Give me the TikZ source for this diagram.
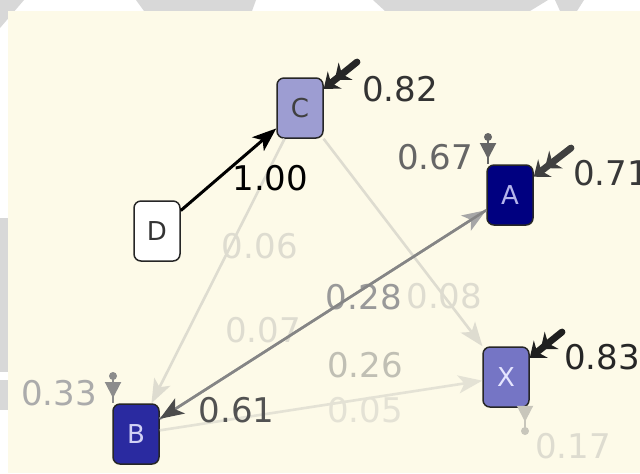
\documentclass[tikz,border=0pt]{standalone}
\usepackage{fontspec}
\setmainfont{DejaVu Sans}
\usepackage{tikz}
\definecolor{papercream}{RGB}{253,250,232}
\definecolor{markgrey}{RGB}{216,216,216}
\definecolor{statenavy}{RGB}{0,0,128}
\definecolor{stateblue}{RGB}{42,42,160}
\definecolor{stateviolet}{RGB}{117,117,197}
\definecolor{statelilac}{RGB}{157,157,210}
\definecolor{faintgrey}{RGB}{222,220,208}
\definecolor{palegrey}{RGB}{192,191,180}
\usetikzlibrary{arrows.meta,positioning,calc}

\begin{document}
\begin{tikzpicture}[
    x=0.5pt, y=-0.5pt,
    state/.style={rectangle, rounded corners=3.5pt, minimum width=23pt, minimum height=30pt, inner sep=0pt, draw=black!85, line width=0.75pt, font=\fontsize{13}{15}\selectfont},
    prob/.style={font=\fontsize{17}{20}\selectfont, inner sep=0pt},
    arrow/.style={-{Stealth[length=12pt, width=9pt, inset=3pt]}, line width=1.3pt},
    inflow/.style={-{Stealth[length=7pt, width=11pt] Stealth[length=7pt, width=11pt]}, line width=3.4pt, line cap=round},
    endmark/.style={-{Triangle[length=8pt, width=8pt]}, line width=1pt}
]

% paper and watermark
\useasboundingbox (0,0) rectangle (640,473);
\fill[white] (0,0) rectangle (640,473);
\fill[markgrey] (0,0) -- (24,0) -- (0,28) -- cycle;
\fill[markgrey] (136,0) -- (256,0) -- (252,11) -- (144,11) -- cycle;
\fill[markgrey] (373,0) -- (548,0) -- (530,11) -- (385,11) -- cycle;
\fill[markgrey] (555,0) -- (584,0) -- (577,11) -- (560,11) -- cycle;
\fill[markgrey] (0,218) rectangle (8,372);
\fill[markgrey] (0,380) rectangle (8,410);
\fill[papercream] (8,11) rectangle (640,473);

% states
\node[state, fill=statelilac, text=black!75] (C) at (300,108) {C};
\node[state, fill=white, text=black!80] (D) at (157,231) {D};
\node[state, fill=statenavy, text={rgb,255:red,180;green,180;blue,235}] (A) at (510,195) {A};
\node[state, fill=stateviolet, text=white!90!blue] (X) at (506,377) {X};
\node[state, fill=stateblue, text={rgb,255:red,210;green,210;blue,245}] (B) at (136,434) {B};

\coordinate (cin) at (357,62);
\coordinate (ain) at (571,148);
\coordinate (xin) at (562,332);
\coordinate (adot) at (488,137);
\coordinate (bdot) at (113,376);
\coordinate (xdot) at (525,431);

% faint transitions
\draw[arrow, faintgrey] (C) -- (B)
    node[prob, pos=0.404, xshift=14.5pt, text=faintgrey] {0.06}
    node[prob, pos=0.725, xshift=37.5pt, text=faintgrey] {0.07};
\draw[arrow, faintgrey] (C) -- (X) node[prob, pos=0.76, text=faintgrey] {0.08};
\draw[arrow, faintgrey!80!papercream] (B) -- (X)
    node[prob, pos=0.636, yshift=17pt, text=palegrey] {0.26}
    node[prob, pos=0.636, yshift=-5.5pt, text=faintgrey!80!papercream] {0.05};

% strong transitions
\draw[arrow, black!35] (B) -- (A) node[prob, pos=0.625, yshift=-4.5pt, text=black!40] {0.28};
\draw[-{Stealth[length=12pt, width=9pt, inset=3pt, color=black!70]}, line width=1.3pt, black!48] (A) -- (B)
    node[prob, at end, xshift=38.5pt, yshift=4.5pt, text=black!68] {0.61};
\draw[arrow, black, line width=1.5pt] (D) -- (C) node[prob, at end, xshift=-3pt, yshift=-25pt] {1.00};

% start weights
\draw[inflow, black!85] (cin) -- (C) node[prob, at start, xshift=21.5pt, yshift=-13.5pt, text=black!80] {0.82};
\draw[inflow, black!75] (ain) -- (A) node[prob, at start, xshift=20pt, yshift=-12.5pt, text=black!78] {0.71};
\draw[inflow, black!88] (xin) -- (X) node[prob, at start, xshift=20pt, yshift=-12.5pt, text=black!85] {0.83};

% end weights
\draw[black!60, line width=1pt] (adot) -- (adot |- A.north)
    node[prob, at start, xshift=-26.5pt, yshift=-10pt, text=black!60] {0.67};
\draw[endmark, black!60] (adot) -- ++(0,22);
\fill[black!60] (adot) circle[radius=2pt];
\draw[black!45, line width=1pt] (bdot) -- (bdot |- B.north)
    node[prob, at start, xshift=-27pt, yshift=-8.5pt, text=black!33] {0.33};
\draw[endmark, black!45] (bdot) -- ++(0,22);
\fill[black!45] (bdot) circle[radius=2pt];
\draw[faintgrey!90!black, line width=1pt] (X.south -| xdot) -- (xdot)
    node[prob, at end, xshift=24pt, yshift=-7.5pt, text=faintgrey] {0.17};
\draw[endmark, faintgrey!90!black] (X.south -| xdot) -- ++(0,14);
\fill[faintgrey!90!black] (xdot) circle[radius=2pt];

\end{tikzpicture}
\end{document}
